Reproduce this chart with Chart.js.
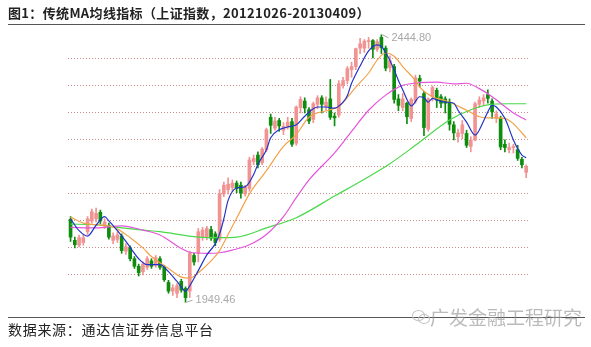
<!DOCTYPE html>
<html>
<head>
<meta charset="utf-8">
<script src="https://cdn.jsdelivr.net/npm/chart.js@4.4.0/dist/chart.umd.min.js"></script>
<style>
body{margin:0;background:#fff;width:591px;height:347px;overflow:hidden;position:relative;font-family:"Noto Sans CJK SC",sans-serif}
#title{position:absolute;left:8px;top:3px;font-size:13px;font-weight:bold;color:#222;white-space:nowrap;letter-spacing:0.35px}
.rule{position:absolute;left:8px;width:577px;height:0;border-top:1.5px solid #555}
#source{position:absolute;left:8px;top:319px;font-size:14px;color:#222;white-space:nowrap;letter-spacing:0.7px}
#mark{position:absolute;left:430px;top:303px;font-size:19px;color:rgba(150,150,150,0.65);white-space:nowrap}
#icon{position:absolute;left:412px;top:310px;width:18px;height:14px}
#icon span{position:absolute;border:1px solid #c4c4c4;border-radius:50%}
canvas{position:absolute;left:0;top:0}
</style>
</head>
<body>
<canvas id="myChart" width="591" height="347"></canvas>
<div id="title">图1：传统MA均线指标（上证指数，20121026-20130409）</div>
<div class="rule" style="top:24px"></div>
<div class="rule" style="top:317px"></div>
<div id="source">数据来源：通达信证券信息平台</div>
<div id="icon"><span style="left:0;top:0;width:11px;height:9px"></span><span style="left:6px;top:4px;width:10px;height:8px"></span></div>
<div id="mark">广发金融工程研究</div>
<script>
// trading days 20121026 - 20130409
var dates = ['20121026','20121029','20121030','20121031',
  '20121101','20121102','20121105','20121106','20121107','20121108','20121109','20121112','20121113','20121114','20121115','20121116','20121119','20121120','20121121','20121122','20121123','20121126','20121127','20121128','20121129','20121130',
  '20121203','20121204','20121205','20121206','20121207','20121210','20121211','20121212','20121213','20121214','20121217','20121218','20121219','20121220','20121221','20121224','20121225','20121226','20121227','20121228','20121231',
  '20130104','20130107','20130108','20130109','20130110','20130111','20130114','20130115','20130116','20130117','20130118','20130121','20130122','20130123','20130124','20130125','20130128','20130129','20130130','20130131',
  '20130201','20130204','20130205','20130206','20130207','20130208','20130218','20130219','20130220','20130221','20130222','20130225','20130226','20130227','20130228',
  '20130301','20130304','20130305','20130306','20130307','20130308','20130311','20130312','20130313','20130314','20130315','20130318','20130319','20130320','20130321','20130322','20130325','20130326','20130327','20130328','20130329',
  '20130401','20130402','20130403','20130408','20130409'];

var opens = [2103,2064,2055,2060,2080,2100,2104,2116,2090,2092,
  2064,2066,2072,2044,2050,2030,2016,2006,2014,2026,
  2018,2030,2014,1986,1970,1966,1988,1975,1970,2036,
  2040,2070,2070,2084,2076,2066,2150,2158,2162,2170,
  2166,2150,2160,2210,2222,2208,2232,2292,2272,2286,
  2268,2274,2284,2244,2310,2322,2306,2288,2316,2328,
  2312,2326,2294,2296,2352,2360,2380,2386,2420,2420,
  2432,2434,2418,2440,2420,2384,2386,2326,2310,2318,
  2290,2322,2364,2336,2270,2330,2342,2330,2326,2320,
  2278,2256,2262,2262,2238,2250,2316,2322,2334,2322,
  2290,2290,2242,2232,2236,2232,2214,2190];
var highs = [2108,2070,2074,2075,2108,2122,2124,2120,2104,2096,
  2078,2080,2076,2058,2054,2034,2020,2024,2034,2030,
  2036,2034,2018,1990,1982,1984,1992,1978,2044,2040,
  2086,2088,2090,2090,2080,2158,2172,2180,2176,2174,
  2172,2166,2218,2222,2228,2236,2272,2298,2292,2290,
  2282,2292,2290,2313,2330,2328,2310,2320,2332,2332,
  2330,2362,2300,2360,2366,2386,2394,2420,2438,2436,
  2440,2436,2436,2444.80,2424,2406,2390,2334,2336,2320,
  2328,2370,2370,2340,2328,2350,2346,2334,2330,2326,
  2284,2270,2286,2268,2256,2320,2330,2334,2343,2326,
  2304,2294,2250,2244,2242,2240,2218,2204];
var lows = [2062,2050,2052,2055,2075,2096,2098,2095,2086,2066,
  2058,2060,2040,2038,2026,2012,1998,2000,2010,2012,
  2014,2010,1988,1966,1962,1958,1968,1949.46,1958,2018,
  2024,2064,2065,2064,2054,2062,2145,2150,2154,2152,
  2142,2146,2155,2204,2198,2204,2228,2262,2268,2266,
  2260,2270,2238,2240,2300,2300,2280,2282,2308,2300,
  2305,2288,2276,2292,2346,2354,2366,2380,2410,2412,
  2420,2402,2414,2410,2378,2376,2318,2304,2304,2280,
  2284,2318,2348,2258,2266,2322,2310,2310,2300,2268,
  2250,2246,2252,2236,2228,2248,2310,2314,2318,2290,
  2282,2232,2228,2226,2226,2212,2198,2180];
var closes = [2070,2056,2069,2069,2104,2117,2114,2100,2098,2070,
  2072,2074,2045,2052,2030,2016,2004,2020,2030,2016,
  2032,2014,1991,1970,1976,1980,1972,1958,2040,2024,
  2080,2083,2086,2068,2060,2150,2166,2168,2170,2160,
  2152,2162,2213,2216,2204,2233,2269,2277,2285,2276,
  2275,2283,2242,2311,2325,2309,2285,2317,2328,2316,
  2320,2292,2291,2354,2360,2382,2386,2419,2428,2433,
  2434,2418,2432,2421,2383,2397,2325,2314,2326,2293,
  2325,2365,2359,2273,2326,2347,2324,2318,2318,2279,
  2263,2263,2278,2240,2250,2317,2324,2328,2327,2302,
  2298,2237,2236,2236,2238,2216,2204,2200];

// moving average lines (day index, value)
var ma5Days = [0,2,4,6,8,9,11,13,16,18,21,23,25,27,28,30,32,34,35,36,37,39,41,43,44,46,47,49,51,53,55,58,60,62,64,65,66,68,70,72,73,74,76,77,78,79,80,82,83,84,85,86,88,90,91,93,95,97,98,99,100,102,104,105,106,107];
var ma5Vals = [2104,2082,2072,2092,2108,2100,2082,2062,2030,2019,2019,2006,1988,1970,1980,2008,2037,2058,2076,2104,2138,2161,2163,2186,2205,2232,2254,2269,2274,2278,2294,2311,2311,2309,2320,2332,2355,2387,2415,2426,2423,2412,2380,2360,2343,2325,2313,2330,2328,2320,2327,2324,2320,2318,2305,2283,2259,2285,2302,2314,2311,2290,2250,2234,2222,2217];
var ma10Days = [0,3,6,10,14,17,19,23,26,28,30,33,35,37,39,42,46,50,53,56,61,63,67,70,72,74,76,78,81,82,85,88,93,96,98,100,102,104,105,107];
var ma10Vals = [2107,2096,2093,2089,2069,2050,2034,2012,1996,1994,2004,2026,2045,2075,2105,2150,2193,2238,2260,2292,2306,2312,2348,2374,2398,2411,2405,2386,2360,2348,2330,2323,2305,2293,2291,2291,2290,2280,2272,2254];
var ma30Days = [0,6,12,17,21,26,28,32,35,38,42,46,50,53,56,62,66,70,74,78,82,86,90,93,96,99,102,104,107];
var ma30Vals = [2088,2087,2091,2083,2074,2049,2042,2040,2041,2046,2056,2075,2108,2143,2176,2226,2266,2305,2333,2351,2356,2357,2354,2355,2345,2330,2312,2300,2287];
var ma60Days = [0,6,10,17,21,30,35,39,46,53,62,70,75,81,89,94,98,103,107];
var ma60Vals = [2094,2093,2089,2083,2080,2070,2069,2070,2087,2106,2146,2182,2206,2240,2287,2306,2315,2317,2317];

var markDays = [73, 27];
var markVals = [2444.80, 1949.46];

var upColor = '#f29393';
var downColor = '#0e8c0e';
var candleColors = closes.map((c, i) => c >= opens[i] ? upColor : downColor);

function body(i){
    let o = opens[i], c = closes[i];
    if (Math.abs(o - c) < 1.8) {
        let m = (o + c) / 2;
        return [m - 0.9, m + 0.9];
    }
    return [o, c];
}

function maLine(label, days, vals, color){
    return {
        type: 'line',
        label: label,
        data: days.map((d, i) => ({x: d, y: vals[i]})),
        borderColor: color,
        borderWidth: 1.2,
        pointRadius: 0,
        cubicInterpolationMode: 'monotone',
        order: 0
    };
}

var markPlugin = {
    id: 'marks',
    afterDatasetsDraw(chart){
        let c = chart.ctx, xs = chart.scales.x, ys = chart.scales.y;
        c.save();
        c.font = '11px "Liberation Sans", Arial, sans-serif';
        c.fillStyle = '#a8a8a8';
        c.strokeStyle = '#a8a8a8';
        c.lineWidth = 1;
        c.textBaseline = 'middle';
        markDays.forEach((d, k) => {
            let px = xs.getPixelForValue(d), py = ys.getPixelForValue(markVals[k]);
            let dy = k == 0 ? 3 : -2;
            c.beginPath();
            c.moveTo(px + 1, py);
            c.lineTo(px + 7, py + dy);
            c.stroke();
            c.fillText(markVals[k].toFixed(2), px + 10, py + dy);
        });
        c.restore();
    }
};

var ctx = document.getElementById('myChart');
var myChart = new Chart(ctx, {
    type: 'bar',
    data: {
        datasets: [
            maLine('MA5', ma5Days, ma5Vals, '#2234c8'),
            maLine('MA10', ma10Days, ma10Vals, '#f2a24a'),
            maLine('MA30', ma30Days, ma30Vals, '#e455dc'),
            maLine('MA60', ma60Days, ma60Vals, '#4ad84a'),
            {
                label: 'body',
                data: dates.map((d, i) => ({x: i, y: body(i)})),
                backgroundColor: candleColors,
                barThickness: 3,
                grouped: false,
                order: 1
            },
            {
                label: 'wick',
                data: dates.map((d, i) => ({x: i, y: [lows[i], highs[i]]})),
                backgroundColor: candleColors,
                barThickness: 1,
                grouped: false,
                order: 2
            }
        ]
    },
    options: {
        responsive: false,
        animation: false,
        layout: { padding: { left: 68, right: 61, top: 29, bottom: 37 } },
        plugins: {
            legend: { display: false },
            tooltip: { enabled: false }
        },
        scales: {
            x: {
                type: 'linear',
                min: -0.6,
                max: 107.9,
                offset: false,
                display: false
            },
            y: {
                min: 1935,
                max: 2455.5,
                ticks: { display: false, stepSize: 50 },
                border: { display: false, dash: [1, 2] },
                grid: {
                    drawTicks: false,
                    lineWidth: 1,
                    color: (c) => (c.tick && c.tick.value % 50 === 0 && c.tick.value < 2450) ? '#cf8c8c' : 'rgba(0,0,0,0)'
                },
                afterFit: (s) => { s.width = 0; }
            }
        }
    },
    plugins: [markPlugin]
});
</script>
</body>
</html>
